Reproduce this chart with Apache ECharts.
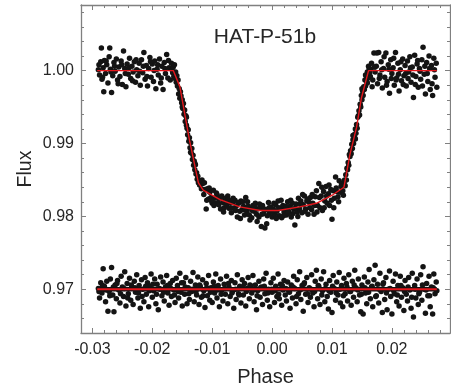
<!DOCTYPE html>
<html>
<head>
<meta charset="utf-8">
<script src="https://cdn.jsdelivr.net/npm/echarts@6/dist/echarts.min.js"></script>
<style>
html,body{margin:0;padding:0;background:#fff;}
#chart{width:451px;height:388px;}
</style>
</head>
<body>
<div id="chart"></div>
<script>
// ---- Data ----
const titleText = 'HAT-P-51b';
const xName = 'Phase';
const yName = 'Flux';

const xMajorTicks = [-0.03, -0.02, -0.01, 0.00, 0.01, 0.02];
const yMajorTicks = [0.97, 0.98, 0.99, 1.00];
const xMinorTicks = [-0.030,-0.028,-0.026,-0.024,-0.022,-0.020,-0.018,-0.016,-0.014,-0.012,-0.010,-0.008,-0.006,-0.004,-0.002,0.000,0.002,0.004,0.006,0.008,0.010,0.012,0.014,0.016,0.018,0.020,0.022,0.024,0.026,0.028];
const yMinorTicks = [0.964,0.966,0.968,0.970,0.972,0.974,0.976,0.978,0.980,0.982,0.984,0.986,0.988,0.990,0.992,0.994,0.996,0.998,1.000,1.002,1.004,1.006,1.008];

// light-curve points: pre-transit
const lcPre = [
[-0.0290,1.0001],[-0.0288,0.9994],[-0.0286,1.0012],[-0.0285,1.0031],[-0.0284,0.9988],[-0.0282,1.0004],[-0.0281,0.9971],[-0.0280,1.0014],[-0.0278,0.9996],[-0.0276,1.0008],
[-0.0274,0.9983],[-0.0272,1.0019],[-0.0271,1.0031],[-0.0270,1.0002],[-0.0268,0.9970],[-0.0266,0.9993],[-0.0264,1.0011],[-0.0262,0.9999],[-0.0260,1.0016],[-0.0258,0.9987],
[-0.0256,1.0005],[-0.0254,0.9992],[-0.0252,1.0013],[-0.0250,0.9981],[-0.0248,1.0027],[-0.0246,1.0003],[-0.0244,0.9978],[-0.0242,1.0009],[-0.0240,0.9995],[-0.0238,1.0017],
[-0.0236,0.9989],[-0.0234,1.0006],[-0.0232,0.9998],[-0.0230,1.0012],[-0.0228,0.9984],[-0.0226,1.0001],[-0.0224,0.9993],[-0.0222,1.0010],[-0.0220,0.9980],[-0.0218,1.0015],
[-0.0216,0.9997],[-0.0214,1.0025],[-0.0212,0.9988],[-0.0210,1.0007],[-0.0208,0.9979],[-0.0206,1.0003],[-0.0204,1.0018],[-0.0202,0.9991],[-0.0200,1.0009],[-0.0198,0.9985],
[-0.0196,1.0013],[-0.0194,0.9975],[-0.0192,1.0002],[-0.0190,0.9994],[-0.0188,1.0016],[-0.0186,0.9983],[-0.0184,1.0006],[-0.0182,0.9974],[-0.0180,1.0011],[-0.0178,0.9996],
[-0.0176,1.0022],[-0.0174,0.9990],[-0.0172,1.0004],[-0.0170,0.9987],[-0.0168,1.0010],[-0.0166,0.9997],
[-0.0289,1.0008],[-0.0283,0.9991],[-0.0277,1.0013],[-0.0269,0.9998],[-0.0263,1.0006],[-0.0257,0.9982],[-0.0251,1.0008],[-0.0245,0.9996],[-0.0239,1.0004],[-0.0233,0.9986],
[-0.0227,1.0015],[-0.0221,0.9999],[-0.0215,1.0006],[-0.0209,0.9992],[-0.0203,1.0012],[-0.0197,1.0000],[-0.0191,1.0008],[-0.0185,0.9990],[-0.0179,1.0003],[-0.0173,1.0014],[-0.0167,1.0001]
];
// ingress
const lcIngress = [
[-0.0165,1.0005],[-0.0164,0.9992],[-0.0163,1.0008],[-0.0162,0.9989],[-0.0161,0.9998],[-0.0160,0.9984],[-0.0159,0.9993],[-0.0158,0.9979],[-0.0157,0.9987],[-0.0156,0.9968],
[-0.0155,0.9975],[-0.0154,0.9962],[-0.0153,0.9971],[-0.0152,0.9965],[-0.0151,0.9956],[-0.0150,0.9960],[-0.0149,0.9948],[-0.0148,0.9955],[-0.0147,0.9940],[-0.0146,0.9946],
[-0.0145,0.9930],[-0.0144,0.9938],[-0.0143,0.9925],[-0.0142,0.9921],[-0.0141,0.9912],[-0.0140,0.9919],[-0.0139,0.9903],[-0.0138,0.9908],[-0.0137,0.9894],[-0.0136,0.9901],
[-0.0135,0.9887],[-0.0134,0.9893],[-0.0133,0.9878],[-0.0132,0.9884],[-0.0131,0.9870],[-0.0130,0.9876],[-0.0129,0.9864],[-0.0128,0.9871],[-0.0127,0.9858],[-0.0126,0.9860],
[-0.0125,0.9851],[-0.0124,0.9855],[-0.0123,0.9846],[-0.0150,0.9950],[-0.0143,0.9936],[-0.0136,0.9888],[-0.0129,0.9873]
];
// transit bottom
const lcBottom = [
[-0.0122,0.9849],[-0.0120,0.9848],[-0.0118,0.9838],[-0.0116,0.9845],[-0.0114,0.9830],[-0.0112,0.9837],[-0.0110,0.9810],[-0.0108,0.9838],[-0.0106,0.9824],[-0.0104,0.9833],
[-0.0102,0.9826],[-0.0100,0.9818],[-0.0098,0.9836],[-0.0096,0.9825],[-0.0094,0.9818],[-0.0092,0.9830],[-0.0090,0.9819],[-0.0088,0.9825],[-0.0086,0.9810],[-0.0084,0.9828],
[-0.0082,0.9819],[-0.0080,0.9812],[-0.0078,0.9825],[-0.0076,0.9815],[-0.0074,0.9828],[-0.0072,0.9811],[-0.0070,0.9819],[-0.0068,0.9805],[-0.0066,0.9819],[-0.0064,0.9811],
[-0.0062,0.9822],[-0.0060,0.9814],[-0.0058,0.9799],[-0.0056,0.9818],[-0.0054,0.9807],[-0.0052,0.9821],[-0.0050,0.9809],[-0.0048,0.9814],[-0.0046,0.9802],[-0.0044,0.9826],
[-0.0042,0.9807],[-0.0040,0.9814],[-0.0038,0.9802],[-0.0036,0.9811],[-0.0034,0.9798],[-0.0032,0.9815],[-0.0030,0.9807],[-0.0028,0.9818],[-0.0026,0.9803],[-0.0024,0.9810],
[-0.0022,0.9799],[-0.0020,0.9812],[-0.0018,0.9786],[-0.0016,0.9815],[-0.0014,0.9804],[-0.0012,0.9784],[-0.0010,0.9809],[-0.0008,0.9801],[-0.0006,0.9819],[-0.0004,0.9805],
[-0.0002,0.9813],[0.0000,0.9799],[0.0002,0.9810],[0.0004,0.9803],[0.0006,0.9816],[0.0008,0.9807],[0.0010,0.9821],[0.0012,0.9801],[0.0014,0.9811],[0.0016,0.9798],
[0.0018,0.9815],[0.0020,0.9806],[0.0022,0.9810],[0.0024,0.9802],[0.0026,0.9820],[0.0028,0.9805],[0.0030,0.9814],[0.0032,0.9799],[0.0034,0.9818],[0.0036,0.9810],
[0.0038,0.9788],[0.0040,0.9817],[0.0042,0.9806],[0.0044,0.9825],[0.0046,0.9810],[0.0048,0.9821],[0.0050,0.9805],[0.0052,0.9816],[0.0054,0.9828],[0.0056,0.9810],
[0.0058,0.9821],[0.0060,0.9803],[0.0062,0.9819],[0.0064,0.9826],[0.0066,0.9809],[0.0068,0.9818],[0.0070,0.9803],[0.0072,0.9827],[0.0074,0.9835],[0.0076,0.9815],
[0.0078,0.9845],[0.0080,0.9812],[0.0082,0.9828],[0.0084,0.9808],[0.0086,0.9834],[0.0088,0.9821],[0.0090,0.9841],[0.0092,0.9818],[0.0094,0.9831],[0.0096,0.9815],
[0.0098,0.9837],[0.0100,0.9796],[0.0102,0.9835],[0.0104,0.9825],[0.0106,0.9854],[0.0108,0.9834],[0.0110,0.9827],[0.0112,0.9849],[0.0114,0.9833],[0.0116,0.9845],
[0.0118,0.9835],[0.0120,0.9846],
[-0.0121,0.9843],[-0.0117,0.9850],[-0.0113,0.9846],[-0.0109,0.9822],[-0.0105,0.9839],[-0.0101,0.9821],[-0.0097,0.9815],[-0.0093,0.9832],[-0.0089,0.9816],[-0.0085,0.9826],
[-0.0081,0.9806],[-0.0077,0.9818],[-0.0073,0.9823],[-0.0069,0.9812],[-0.0065,0.9825],[-0.0061,0.9808],[-0.0057,0.9819],[-0.0053,0.9797],[-0.0049,0.9820],[-0.0045,0.9809],
[-0.0041,0.9820],[-0.0037,0.9795],[-0.0033,0.9808],[-0.0029,0.9813],[-0.0025,0.9793],[-0.0021,0.9817],[-0.0017,0.9803],[-0.0013,0.9810],[-0.0009,0.9790],[-0.0005,0.9812],
[-0.0001,0.9806],[0.0003,0.9818],[0.0007,0.9797],[0.0011,0.9812],[0.0015,0.9822],[0.0019,0.9801],[0.0023,0.9814],[0.0027,0.9808],[0.0031,0.9822],[0.0035,0.9804],
[0.0039,0.9811],[0.0043,0.9800],[0.0047,0.9817],[0.0051,0.9830],[0.0055,0.9807],[0.0059,0.9824],[0.0063,0.9812],[0.0067,0.9830],[0.0071,0.9815],[0.0075,0.9806],
[0.0079,0.9826],[0.0083,0.9840],[0.0087,0.9812],[0.0091,0.9828],[0.0095,0.9843],[0.0099,0.9822],[0.0103,0.9812],[0.0107,0.9839],[0.0111,0.9820],[0.0115,0.9841],[0.0119,0.9829]
];
// egress
const lcEgress = [
[0.0121,0.9850],[0.0122,0.9842],[0.0123,0.9857],[0.0124,0.9850],[0.0125,0.9866],[0.0126,0.9864],[0.0127,0.9874],[0.0128,0.9870],[0.0129,0.9885],[0.0130,0.9882],
[0.0131,0.9890],[0.0132,0.9886],[0.0133,0.9899],[0.0134,0.9893],[0.0135,0.9905],[0.0136,0.9900],[0.0137,0.9912],[0.0138,0.9908],[0.0139,0.9920],[0.0140,0.9914],
[0.0141,0.9926],[0.0142,0.9921],[0.0143,0.9936],[0.0144,0.9938],[0.0145,0.9945],[0.0146,0.9939],[0.0147,0.9954],[0.0148,0.9950],[0.0149,0.9966],[0.0150,0.9960],
[0.0151,0.9972],[0.0152,0.9966],[0.0153,0.9978],[0.0154,0.9974],[0.0155,0.9987],[0.0156,0.9979],[0.0157,0.9993],[0.0158,0.9985],[0.0159,0.9998],[0.0160,0.9990],
[0.0161,1.0006],[0.0135,0.9911],[0.0139,0.9906],[0.0150,0.9975],[0.0156,0.9994],[0.0159,0.9983]
];
// post-transit
const lcPost = [
[0.0162,1.0003],[0.0164,0.9992],[0.0166,1.0010],[0.0168,0.9987],[0.0170,1.0024],[0.0172,0.9998],[0.0174,1.0006],[0.0176,0.9982],[0.0178,1.0025],[0.0180,0.9994],
[0.0182,1.0012],[0.0184,0.9976],[0.0186,1.0003],[0.0188,0.9991],[0.0190,1.0024],[0.0192,0.9985],[0.0194,1.0008],[0.0196,0.9969],[0.0198,1.0015],[0.0200,0.9996],
[0.0202,1.0004],[0.0204,0.9980],[0.0206,1.0025],[0.0208,0.9990],[0.0210,1.0010],[0.0212,0.9972],[0.0214,1.0001],[0.0216,0.9986],[0.0218,1.0016],[0.0220,0.9993],
[0.0222,1.0007],[0.0224,0.9979],[0.0226,1.0013],[0.0228,0.9998],[0.0230,1.0019],[0.0232,0.9984],[0.0234,1.0005],[0.0236,0.9963],[0.0238,1.0021],[0.0240,0.9992],
[0.0242,1.0009],[0.0244,0.9977],[0.0246,1.0003],[0.0248,0.9988],[0.0250,1.0015],[0.0252,1.0032],[0.0254,0.9995],[0.0256,0.9968],[0.0258,1.0011],[0.0260,0.9985],
[0.0262,1.0020],[0.0264,0.9974],[0.0266,1.0007],[0.0268,0.9966],[0.0270,1.0017],[0.0272,0.9991],[0.0274,1.0010],
[0.0163,0.9997],[0.0165,1.0002],[0.0167,0.9978],[0.0171,1.0005],[0.0175,1.0024],[0.0179,0.9989],[0.0183,1.0001],[0.0187,1.0019],[0.0191,0.9980],[0.0195,1.0002],
[0.0199,0.9989],[0.0203,1.0017],[0.0207,0.9987],[0.0211,0.9995],[0.0215,1.0012],[0.0219,0.9981],[0.0223,0.9996],[0.0227,0.9989],[0.0231,1.0004],[0.0235,0.9994],
[0.0239,0.9981],[0.0243,1.0014],[0.0247,0.9999],[0.0251,0.9979],[0.0255,1.0006],[0.0259,0.9996],[0.0263,1.0003],[0.0267,0.9982],[0.0271,1.0001],[0.0275,0.9977]
];

// residuals (offset to 0.97)
const resPoints = [
[-0.0290,0.9701],[-0.0288,0.9688],[-0.0286,0.9709],[-0.0284,0.9695],[-0.0282,0.9728],[-0.0280,0.9704],[-0.0278,0.9683],[-0.0276,0.9711],[-0.0274,0.9670],[-0.0272,0.9697],
[-0.0270,0.9714],[-0.0268,0.9730],[-0.0266,0.9692],[-0.0264,0.9669],[-0.0262,0.9706],[-0.0260,0.9687],[-0.0258,0.9712],[-0.0256,0.9699],[-0.0254,0.9681],[-0.0252,0.9718],
[-0.0250,0.9703],[-0.0248,0.9690],[-0.0246,0.9724],[-0.0244,0.9677],[-0.0242,0.9708],[-0.0240,0.9694],[-0.0238,0.9715],[-0.0236,0.9685],[-0.0234,0.9702],[-0.0232,0.9679],
[-0.0230,0.9711],[-0.0228,0.9696],[-0.0226,0.9720],[-0.0224,0.9688],[-0.0222,0.9705],[-0.0220,0.9674],[-0.0218,0.9713],[-0.0216,0.9700],[-0.0214,0.9683],[-0.0212,0.9716],
[-0.0210,0.9693],[-0.0208,0.9709],[-0.0206,0.9676],[-0.0204,0.9704],[-0.0202,0.9721],[-0.0200,0.9689],[-0.0198,0.9698],[-0.0196,0.9714],[-0.0194,0.9680],[-0.0192,0.9707],
[-0.0190,0.9672],[-0.0188,0.9701],[-0.0186,0.9717],[-0.0184,0.9691],[-0.0182,0.9710],[-0.0180,0.9684],[-0.0178,0.9703],[-0.0176,0.9719],[-0.0174,0.9695],[-0.0172,0.9678],
[-0.0170,0.9708],[-0.0168,0.9690],[-0.0166,0.9712],[-0.0164,0.9699],[-0.0162,0.9682],[-0.0160,0.9715],[-0.0158,0.9705],[-0.0156,0.9688],[-0.0154,0.9722],[-0.0152,0.9696],
[-0.0150,0.9677],[-0.0148,0.9709],[-0.0146,0.9693],[-0.0144,0.9716],[-0.0142,0.9680],[-0.0140,0.9702],[-0.0138,0.9686],[-0.0136,0.9711],[-0.0134,0.9697],[-0.0132,0.9723],
[-0.0130,0.9683],[-0.0128,0.9706],[-0.0126,0.9692],[-0.0124,0.9717],[-0.0122,0.9679],[-0.0120,0.9704],[-0.0118,0.9689],[-0.0116,0.9713],[-0.0114,0.9698],[-0.0112,0.9675],
[-0.0110,0.9708],[-0.0108,0.9691],[-0.0106,0.9719],[-0.0104,0.9685],[-0.0102,0.9702],[-0.0100,0.9682],[-0.0098,0.9710],[-0.0096,0.9695],[-0.0094,0.9721],[-0.0092,0.9688],
[-0.0090,0.9705],[-0.0088,0.9676],[-0.0086,0.9714],[-0.0084,0.9699],[-0.0082,0.9684],[-0.0080,0.9707],[-0.0078,0.9693],[-0.0076,0.9718],[-0.0074,0.9680],[-0.0072,0.9703],
[-0.0070,0.9690],[-0.0068,0.9712],[-0.0066,0.9697],[-0.0064,0.9674],[-0.0062,0.9709],[-0.0060,0.9686],[-0.0058,0.9720],[-0.0056,0.9694],[-0.0054,0.9704],[-0.0052,0.9681],
[-0.0050,0.9713],[-0.0048,0.9692],[-0.0046,0.9708],[-0.0044,0.9677],[-0.0042,0.9701],[-0.0040,0.9716],[-0.0038,0.9687],[-0.0036,0.9705],[-0.0034,0.9695],[-0.0032,0.9719],
[-0.0030,0.9683],[-0.0028,0.9706],[-0.0026,0.9672],[-0.0024,0.9698],[-0.0022,0.9711],[-0.0020,0.9689],[-0.0018,0.9703],[-0.0016,0.9679],[-0.0014,0.9714],[-0.0012,0.9694],
[-0.0010,0.9722],[-0.0008,0.9685],[-0.0006,0.9700],[-0.0004,0.9676],[-0.0002,0.9709],[0.0000,0.9696],[0.0002,0.9715],[0.0004,0.9682],[0.0006,0.9704],[0.0008,0.9690],
[0.0010,0.9721],[0.0012,0.9687],[0.0014,0.9707],[0.0016,0.9678],[0.0018,0.9699],[0.0020,0.9712],[0.0022,0.9692],[0.0024,0.9684],[0.0026,0.9710],[0.0028,0.9697],
[0.0030,0.9674],[0.0032,0.9706],[0.0034,0.9688],[0.0036,0.9718],[0.0038,0.9701],[0.0040,0.9680],[0.0042,0.9713],[0.0044,0.9694],[0.0046,0.9724],[0.0048,0.9686],
[0.0050,0.9705],[0.0052,0.9670],[0.0054,0.9709],[0.0056,0.9693],[0.0058,0.9716],[0.0060,0.9682],[0.0062,0.9702],[0.0064,0.9689],[0.0066,0.9720],[0.0068,0.9695],
[0.0070,0.9676],[0.0072,0.9711],[0.0074,0.9726],[0.0076,0.9687],[0.0078,0.9704],[0.0080,0.9679],[0.0082,0.9714],[0.0084,0.9698],[0.0086,0.9724],[0.0088,0.9683],
[0.0090,0.9707],[0.0092,0.9690],[0.0094,0.9673],[0.0096,0.9712],[0.0098,0.9696],[0.0100,0.9668],[0.0102,0.9719],[0.0104,0.9701],[0.0106,0.9685],[0.0108,0.9710],
[0.0110,0.9692],[0.0112,0.9723],[0.0114,0.9681],[0.0116,0.9705],[0.0118,0.9676],[0.0120,0.9715],[0.0122,0.9694],[0.0124,0.9708],[0.0126,0.9684],[0.0128,0.9720],
[0.0130,0.9697],[0.0132,0.9678],[0.0134,0.9711],[0.0136,0.9689],[0.0138,0.9726],[0.0140,0.9702],[0.0142,0.9683],[0.0144,0.9714],[0.0146,0.9692],[0.0148,0.9669],
[0.0150,0.9706],[0.0152,0.9666],[0.0154,0.9717],[0.0156,0.9695],[0.0158,0.9680],[0.0160,0.9710],[0.0162,0.9727],[0.0164,0.9687],[0.0166,0.9703],[0.0168,0.9676],
[0.0170,0.9713],[0.0172,0.9733],[0.0174,0.9691],[0.0176,0.9707],[0.0178,0.9681],[0.0180,0.9722],[0.0182,0.9697],[0.0184,0.9668],[0.0186,0.9709],[0.0188,0.9686],
[0.0190,0.9716],[0.0192,0.9672],[0.0194,0.9700],[0.0196,0.9725],[0.0198,0.9690],[0.0200,0.9666],[0.0202,0.9711],[0.0204,0.9694],[0.0206,0.9721],[0.0208,0.9683],
[0.0210,0.9705],[0.0212,0.9677],[0.0214,0.9718],[0.0216,0.9689],[0.0218,0.9702],[0.0220,0.9671],[0.0222,0.9712],[0.0224,0.9693],[0.0226,0.9684],[0.0228,0.9716],
[0.0230,0.9699],[0.0232,0.9674],[0.0234,0.9722],[0.0236,0.9662],[0.0238,0.9705],[0.0240,0.9688],[0.0242,0.9714],[0.0244,0.9679],[0.0246,0.9696],[0.0248,0.9720],
[0.0250,0.9685],[0.0252,0.9731],[0.0254,0.9700],[0.0256,0.9667],[0.0258,0.9708],[0.0260,0.9691],[0.0262,0.9718],[0.0264,0.9676],[0.0266,0.9703],[0.0268,0.9666],
[0.0270,0.9721],[0.0272,0.9694],[0.0274,0.9710],
[-0.0289,0.9697],[-0.0283,0.9705],[-0.0277,0.9699],[-0.0271,0.9691],[-0.0265,0.9703],[-0.0259,0.9708],[-0.0253,0.9694],[-0.0247,0.9701],[-0.0241,0.9688],[-0.0235,0.9706],
[-0.0229,0.9702],[-0.0223,0.9695],[-0.0217,0.9690],[-0.0211,0.9704],[-0.0205,0.9698],[-0.0199,0.9707],[-0.0193,0.9693],[-0.0187,0.9700],[-0.0181,0.9696],[-0.0175,0.9705],
[-0.0169,0.9701],[-0.0163,0.9692],[-0.0157,0.9697],[-0.0151,0.9709],[-0.0145,0.9703],[-0.0139,0.9694],[-0.0133,0.9700],[-0.0127,0.9697],[-0.0121,0.9706],[-0.0115,0.9691],
[-0.0109,0.9702],[-0.0103,0.9696],[-0.0097,0.9704],[-0.0091,0.9699],[-0.0085,0.9693],[-0.0079,0.9701],[-0.0073,0.9708],[-0.0067,0.9695],[-0.0061,0.9700],[-0.0055,0.9692],
[-0.0049,0.9703],[-0.0043,0.9697],[-0.0037,0.9706],[-0.0031,0.9699],[-0.0025,0.9691],[-0.0019,0.9702],[-0.0013,0.9704],[-0.0007,0.9695],[-0.0001,0.9700],[0.0005,0.9698],
[0.0011,0.9693],[0.0017,0.9705],[0.0023,0.9701],[0.0029,0.9696],[0.0035,0.9703],[0.0041,0.9690],[0.0047,0.9699],[0.0053,0.9707],[0.0059,0.9694],[0.0065,0.9700],
[0.0071,0.9697],[0.0077,0.9705],[0.0083,0.9692],[0.0089,0.9701],[0.0095,0.9698],[0.0101,0.9704],[0.0107,0.9695],[0.0113,0.9700],[0.0119,0.9691],[0.0125,0.9703],
[0.0131,0.9697],[0.0137,0.9706],[0.0143,0.9699],[0.0149,0.9693],[0.0155,0.9702],[0.0161,0.9696],[0.0167,0.9704],[0.0173,0.9690],[0.0179,0.9700],[0.0185,0.9707],
[0.0191,0.9695],[0.0197,0.9701],[0.0203,0.9698],[0.0209,0.9692],[0.0215,0.9705],[0.0221,0.9697],[0.0227,0.9703],[0.0233,0.9689],[0.0239,0.9700],[0.0245,0.9694],
[0.0251,0.9706],[0.0257,0.9699],[0.0263,0.9691],[0.0269,0.9702],[0.0275,0.9698]
];

// transit model (red curve)
const modelPhase = [-0.0292,-0.0165,-0.0154,-0.0138,-0.0123,-0.0115,-0.0087,-0.0054,-0.0020,0.0010,0.0046,0.0074,0.0102,0.0120,0.0130,0.0141,0.0149,0.0161,0.0275];
const modelFlux  = [1.0000,1.0000,0.9978,0.9905,0.9846,0.9836,0.9823,0.9813,0.9808,0.9808,0.9813,0.9818,0.9830,0.9840,0.9885,0.9922,0.9962,1.0000,1.0000];

// residual baseline
const resLinePhase = [-0.0292, 0.0275];
const resLineFlux  = [0.9700, 0.9700];

// ---- Chart ----
const X_MIN = -0.0319, X_MAX = 0.0297;
const Y_MIN = 0.9640, Y_MAX = 1.0090;
const axisColor = '#808080';
const textColor = '#262626';
const FONT = 'Liberation Sans, Arial, sans-serif';

const lcPoints = lcPre.concat(lcIngress, lcBottom, lcEgress, lcPost);
const modelData = modelPhase.map((p, i) => [p, modelFlux[i]]);
const resLineData = resLinePhase.map((p, i) => [p, resLineFlux[i]]);

function xAx(pos, ticks, len, withLine, withLabel) {
  const ax = {
    type: 'value', position: pos, min: X_MIN, max: X_MAX,
    splitLine: {show: false},
    axisLine: {show: withLine, onZero: false, lineStyle: {color: axisColor, width: 1.3}},
    axisTick: {show: true, inside: true, length: len, customValues: ticks, lineStyle: {color: axisColor, width: 1}},
    axisLabel: {show: false}
  };
  if (withLabel) {
    ax.axisLabel = {show: true, customValues: ticks, margin: 9, fontSize: 16, color: textColor, fontFamily: FONT,
      formatter: v => Number(v).toFixed(2)};
    ax.name = xName; ax.nameLocation = 'middle'; ax.nameGap = 34; ax.nameMoveOverlap = false;
    ax.nameTextStyle = {fontSize: 20, color: textColor, fontFamily: FONT};
  }
  return ax;
}
function yAx(pos, ticks, len, withLine, withLabel) {
  const ax = {
    type: 'value', position: pos, min: Y_MIN, max: Y_MAX,
    splitLine: {show: false},
    axisLine: {show: withLine, onZero: false, lineStyle: {color: axisColor, width: 1.3}},
    axisTick: {show: true, inside: true, length: len, customValues: ticks, lineStyle: {color: axisColor, width: 1}},
    axisLabel: {show: false}
  };
  if (withLabel) {
    ax.axisLabel = {show: true, customValues: ticks, margin: 7, fontSize: 16, color: textColor, fontFamily: FONT,
      formatter: v => Number(v).toFixed(2)};
    ax.name = yName; ax.nameLocation = 'middle'; ax.nameGap = 45; ax.nameMoveOverlap = false;
    ax.nameTextStyle = {fontSize: 19.5, color: textColor, fontFamily: FONT};
  }
  return ax;
}

const chart = echarts.init(document.getElementById('chart'), null, {renderer: 'canvas'});
chart.setOption({
  backgroundColor: '#ffffff',
  animation: false,
  grid: {left: 81, right: 1, top: 5, bottom: 55, containLabel: false, outerBoundsMode: 'none'},
  xAxis: [
    xAx('bottom', xMajorTicks, 5, true, true),
    xAx('bottom', xMinorTicks, 3, false, false),
    xAx('top', xMajorTicks, 5, true, false),
    xAx('top', xMinorTicks, 3, false, false)
  ],
  yAxis: [
    yAx('left', yMajorTicks, 5, true, true),
    yAx('left', yMinorTicks, 3, false, false),
    yAx('right', yMajorTicks, 5, true, false),
    yAx('right', yMinorTicks, 3, false, false)
  ],
  graphic: [{
    type: 'text', x: 265, y: 37,
    style: {text: titleText, fontSize: 21, fontFamily: FONT, fill: textColor, textAlign: 'center', textVerticalAlign: 'middle'}
  }],
  series: [
    {type: 'scatter', data: lcPoints, symbol: 'circle', symbolSize: 5.5, itemStyle: {color: '#141414', opacity: 1}, z: 2},
    {type: 'scatter', data: resPoints, symbol: 'circle', symbolSize: 5.5, itemStyle: {color: '#141414', opacity: 1}, z: 2},
    {type: 'line', data: resLineData, showSymbol: false, lineStyle: {color: '#111', width: 4.5}, z: 3},
    {type: 'line', data: resLineData, showSymbol: false, lineStyle: {color: '#e3171c', width: 2.2}, z: 4},
    {type: 'line', data: modelData, showSymbol: false, lineStyle: {color: '#e3171c', width: 1.4}, z: 4}
  ]
});
</script>
</body>
</html>
